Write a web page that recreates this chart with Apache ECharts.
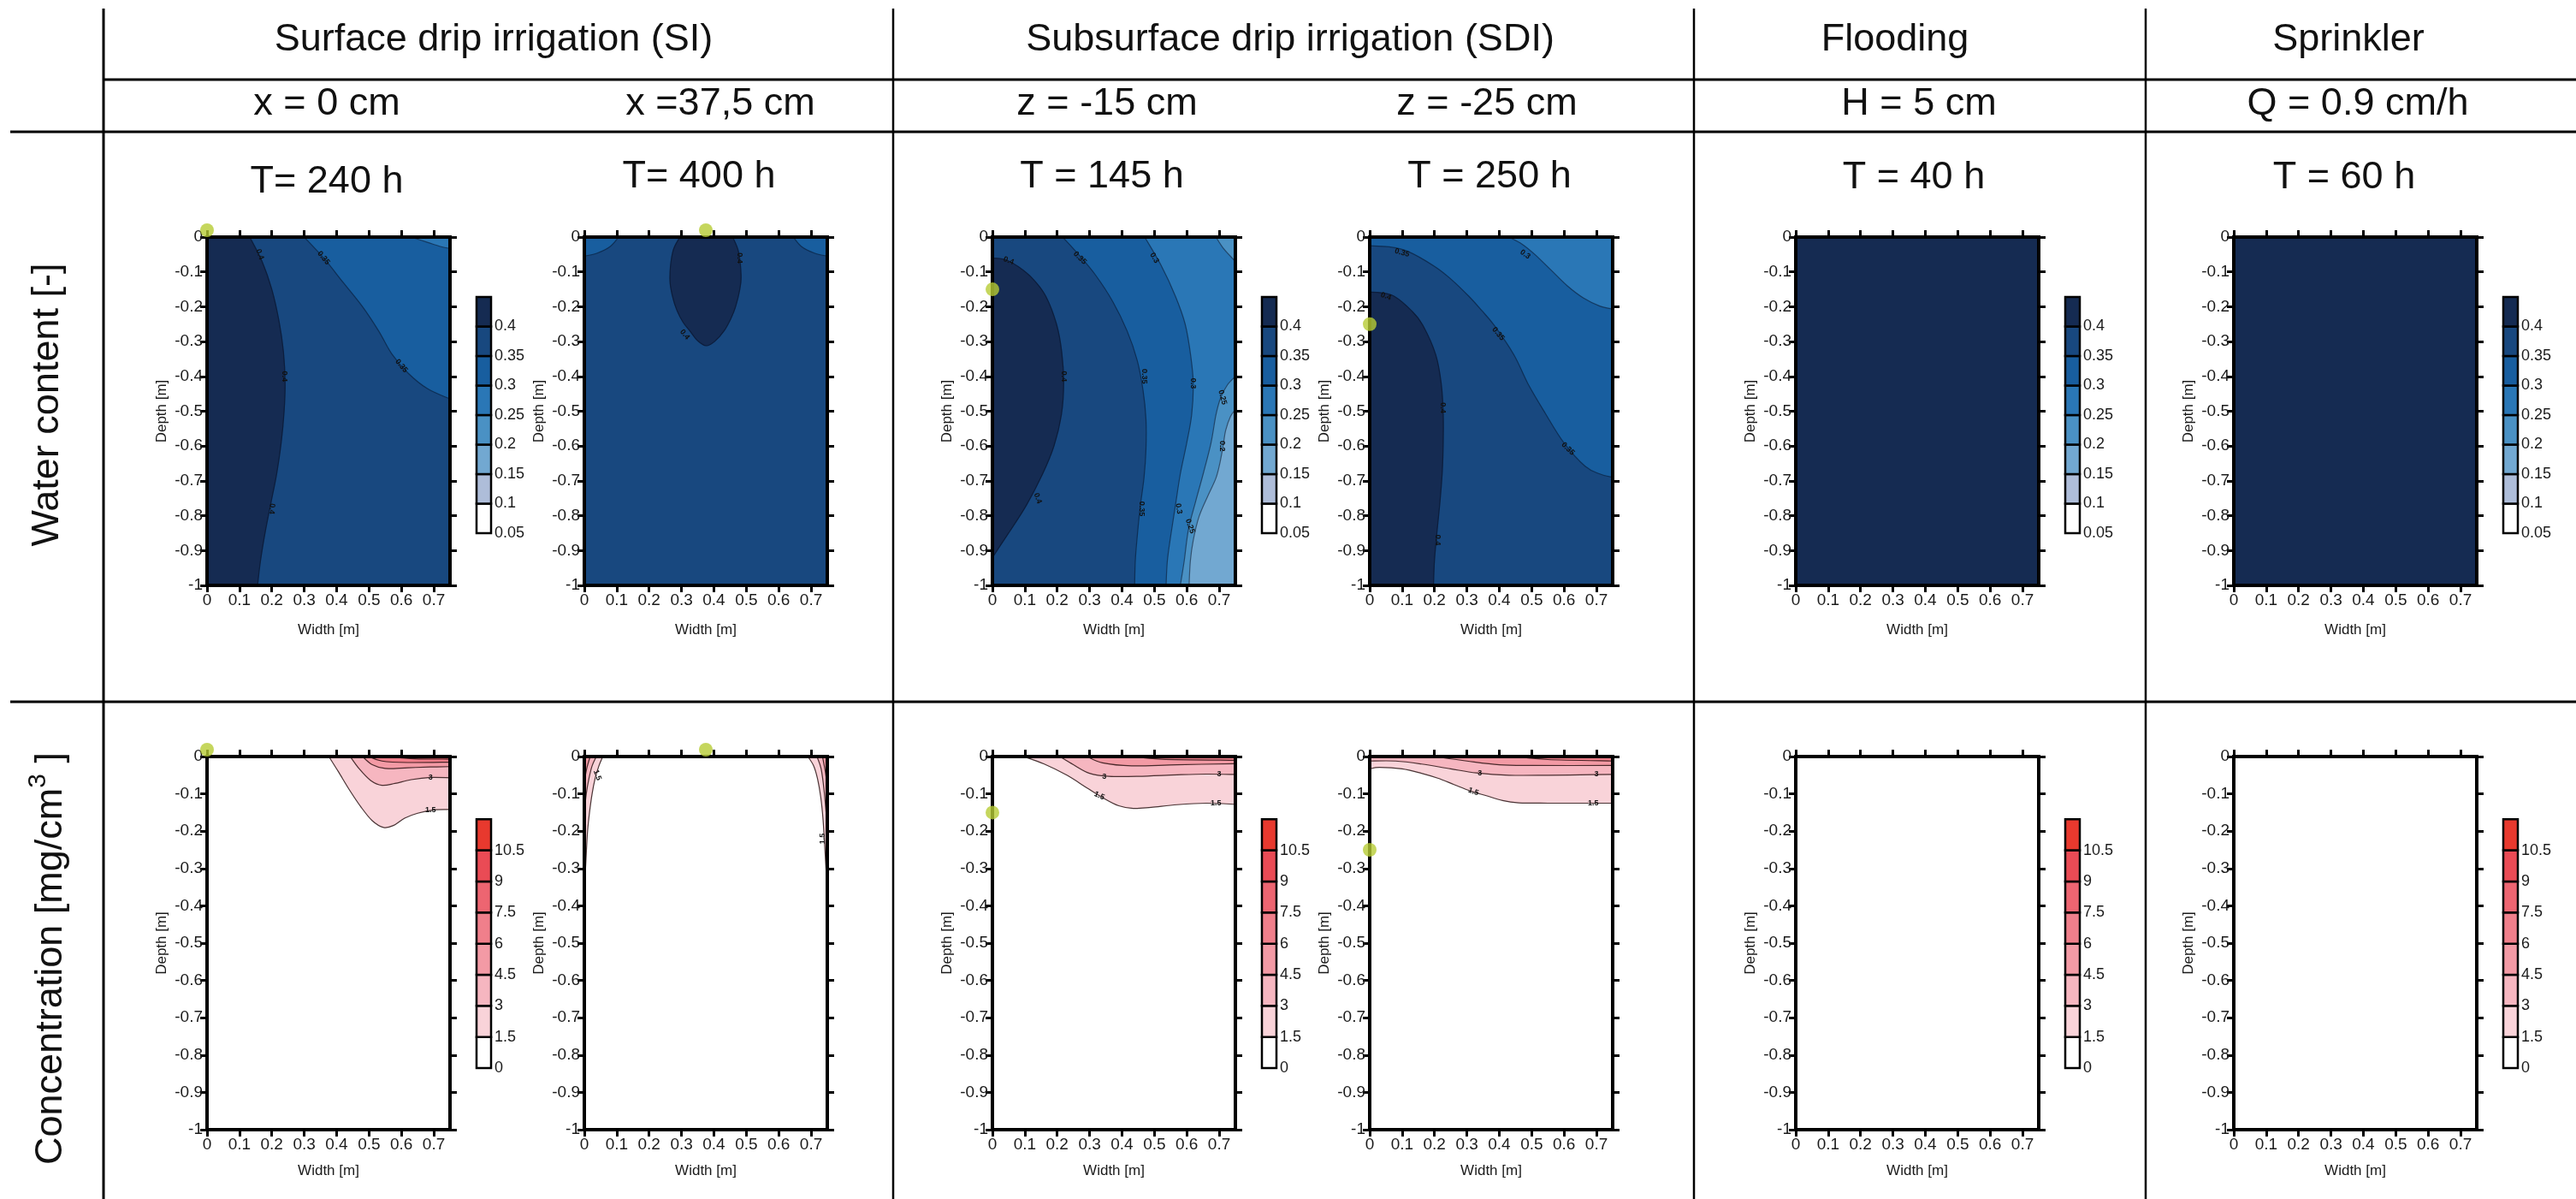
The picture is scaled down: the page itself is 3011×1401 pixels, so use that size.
<!DOCTYPE html>
<html><head><meta charset="utf-8">
<script src="https://cdn.jsdelivr.net/npm/echarts@6/dist/echarts.min.js"></script>
<style>html,body{margin:0;padding:0;background:#fff}#c{width:3011px;height:1401px}</style>
</head><body><div id="c"></div>
<script>
// ================= DATA =================
const groupTitles = ['Surface drip irrigation (SI)', 'Subsurface drip irrigation (SDI)', 'Flooding', 'Sprinkler'];
const caseTitles = ['x = 0 cm', 'x =37,5 cm', 'z = -15 cm', 'z = -25 cm', 'H = 5 cm', 'Q = 0.9 cm/h'];
const timeTitles = ['T= 240 h', 'T= 400 h', 'T = 145 h', 'T = 250 h', 'T = 40 h', 'T = 60 h'];
const rowTitle1 = 'Water content [-]';
const rowTitle2 = ['Concentration [mg/cm', '3', ' ]'];
const widthTicks = [0, 0.1, 0.2, 0.3, 0.4, 0.5, 0.6, 0.7];
const depthTicks = [0, -0.1, -0.2, -0.3, -0.4, -0.5, -0.6, -0.7, -0.8, -0.9, -1];
const waterLevels = [0.05, 0.1, 0.15, 0.2, 0.25, 0.3, 0.35, 0.4, 0.45];
const concLevels = [0, 1.5, 3, 4.5, 6, 7.5, 9, 10.5, 12];
const emitterPos = [[0, 0], [0.375, 0], [0, -0.15], [0, -0.25]];

// ---- water content contours [width m, depth m] ----
const si0_w040 = [[0.132,0],[0.17,-0.07],[0.2,-0.15],[0.222,-0.24],[0.236,-0.33],[0.241,-0.42],[0.238,-0.5],[0.229,-0.59],[0.215,-0.68],[0.198,-0.76],[0.18,-0.845],[0.165,-0.93],[0.156,-1]];
const si0_w035 = [[0.30,0],[0.36,-0.06],[0.42,-0.13],[0.48,-0.2],[0.53,-0.27],[0.57,-0.335],[0.62,-0.39],[0.68,-0.435],[0.75,-0.465]];
const si0_w030 = [[0.63,0],[0.68,-0.015],[0.72,-0.027],[0.75,-0.033]];
const si37_w040 = [[0.295,0],[0.273,-0.042],[0.264,-0.118],[0.272,-0.17],[0.286,-0.211],[0.305,-0.245],[0.326,-0.27],[0.35,-0.298],[0.376,-0.312],[0.402,-0.3],[0.431,-0.27],[0.452,-0.235],[0.467,-0.2],[0.48,-0.15],[0.484,-0.11],[0.476,-0.042],[0.458,0]];
const si37_w035a = [[0,-0.055],[0.04,-0.046],[0.08,-0.027],[0.106,0]];
const si37_w035b = [[0.645,0],[0.67,-0.027],[0.71,-0.046],[0.75,-0.055]];
const sdi15_w040 = [[0,-0.06],[0.04,-0.065],[0.08,-0.085],[0.125,-0.12],[0.165,-0.17],[0.198,-0.25],[0.214,-0.33],[0.22,-0.42],[0.213,-0.51],[0.19,-0.6],[0.155,-0.68],[0.105,-0.77],[0.05,-0.85],[0,-0.92]];
const sdi15_w035 = [[0.217,0],[0.266,-0.05],[0.319,-0.11],[0.372,-0.186],[0.416,-0.27],[0.447,-0.354],[0.465,-0.44],[0.474,-0.523],[0.474,-0.61],[0.468,-0.69],[0.456,-0.776],[0.447,-0.86],[0.441,-0.93],[0.439,-1]];
const sdi15_w030 = [[0.47,0],[0.52,-0.08],[0.565,-0.17],[0.595,-0.25],[0.612,-0.34],[0.62,-0.42],[0.615,-0.51],[0.6,-0.59],[0.58,-0.68],[0.565,-0.77],[0.55,-0.86],[0.54,-0.93],[0.536,-1]];
const sdi15_w025a = [[0.69,0],[0.715,-0.035],[0.75,-0.07]];
const sdi15_w025b = [[0.75,-0.4],[0.725,-0.425],[0.705,-0.46],[0.69,-0.51],[0.675,-0.59],[0.652,-0.675],[0.627,-0.76],[0.605,-0.84],[0.592,-0.93],[0.58,-1]];
const sdi15_w020 = [[0.75,-0.495],[0.735,-0.515],[0.72,-0.555],[0.712,-0.6],[0.703,-0.645],[0.69,-0.692],[0.665,-0.743],[0.638,-0.802],[0.62,-0.87],[0.611,-0.93],[0.607,-1]];
const sdi25_w040 = [[0,-0.158],[0.035,-0.16],[0.076,-0.17],[0.129,-0.211],[0.164,-0.253],[0.204,-0.338],[0.221,-0.422],[0.227,-0.506],[0.227,-0.59],[0.224,-0.675],[0.217,-0.76],[0.208,-0.844],[0.2,-0.928],[0.197,-1]];
const sdi25_w035 = [[0,-0.025],[0.06,-0.028],[0.12,-0.042],[0.2,-0.084],[0.25,-0.12],[0.305,-0.169],[0.345,-0.21],[0.384,-0.253],[0.445,-0.338],[0.489,-0.422],[0.542,-0.506],[0.599,-0.59],[0.665,-0.658],[0.71,-0.68],[0.75,-0.69]];
const sdi25_w030 = [[0.43,0],[0.47,-0.02],[0.51,-0.05],[0.56,-0.095],[0.61,-0.14],[0.66,-0.175],[0.71,-0.198],[0.75,-0.207]];

// ---- concentration contours [width m, depth m] ----
const si0_c15 = [[0.376,0],[0.405,-0.04],[0.44,-0.09],[0.475,-0.135],[0.51,-0.172],[0.545,-0.19],[0.575,-0.185],[0.61,-0.165],[0.65,-0.152],[0.7,-0.143],[0.75,-0.142]];
const si0_c30 = [[0.442,0],[0.47,-0.033],[0.505,-0.064],[0.54,-0.077],[0.58,-0.072],[0.63,-0.062],[0.69,-0.056],[0.75,-0.057]];
const si0_c45 = [[0.48,0],[0.51,-0.022],[0.55,-0.032],[0.62,-0.03],[0.69,-0.028],[0.75,-0.027]];
const si0_c60 = [[0.5,0],[0.54,-0.012],[0.62,-0.016],[0.75,-0.015]];
const si0_c75 = [[0.56,0],[0.64,-0.006],[0.75,-0.007]];
const si37_c15a = [[0.057,0],[0.045,-0.025],[0.033,-0.06],[0.024,-0.1],[0.016,-0.15],[0.01,-0.2],[0.006,-0.26],[0.003,-0.31],[0,-0.34]];
const si37_c30a = [[0.037,0],[0.024,-0.025],[0.014,-0.06],[0.006,-0.1],[0,-0.15]];
const si37_c45a = [[0.018,0],[0.008,-0.03],[0,-0.066]];
const si37_c15b = [[0.69,0],[0.708,-0.025],[0.72,-0.06],[0.73,-0.11],[0.737,-0.17],[0.742,-0.24],[0.746,-0.3],[0.75,-0.36]];
const si37_c30b = [[0.718,0],[0.731,-0.033],[0.74,-0.09],[0.747,-0.156],[0.75,-0.18]];
const si37_c45b = [[0.735,0],[0.744,-0.041],[0.75,-0.08]];
const sdi15_c15 = [[0.097,0],[0.16,-0.02],[0.23,-0.05],[0.29,-0.083],[0.34,-0.11],[0.39,-0.132],[0.435,-0.139],[0.49,-0.136],[0.57,-0.129],[0.66,-0.125],[0.75,-0.128]];
const sdi15_c30 = [[0.208,0],[0.25,-0.022],[0.3,-0.045],[0.36,-0.053],[0.45,-0.053],[0.57,-0.049],[0.66,-0.047],[0.75,-0.048]];
const sdi15_c45 = [[0.292,0],[0.34,-0.017],[0.43,-0.025],[0.57,-0.022],[0.75,-0.019]];
const sdi15_c60 = [[0.434,0],[0.523,-0.007],[0.75,-0.01]];
const sdi25_c15 = [[0,-0.033],[0.03,-0.029],[0.1,-0.033],[0.16,-0.045],[0.21,-0.058],[0.26,-0.075],[0.31,-0.092],[0.36,-0.105],[0.41,-0.118],[0.46,-0.124],[0.55,-0.125],[0.65,-0.125],[0.75,-0.125]];
const sdi25_c30 = [[0,-0.012],[0.08,-0.012],[0.16,-0.02],[0.25,-0.033],[0.33,-0.044],[0.43,-0.05],[0.55,-0.05],[0.65,-0.049],[0.75,-0.048]];
const sdi25_c45 = [[0.2,0],[0.3,-0.012],[0.4,-0.022],[0.5,-0.024],[0.75,-0.024]];
const sdi25_c60 = [[0.45,0],[0.55,-0.008],[0.75,-0.012]];

// ---- contour labels [text, width, depth, angle deg] ----
const si0_wlab = [['0.4',0.163,-0.05,-70],['0.4',0.24,-0.4,-90],['0.4',0.2,-0.78,-95],['0.35',0.36,-0.06,-50],['0.35',0.6,-0.37,-50]];
const si37_wlab = [['0.4',0.478,-0.06,-90],['0.4',0.31,-0.28,-50]];
const sdi15_wlab = [['0.4',0.05,-0.068,-20],['0.4',0.22,-0.4,-90],['0.4',0.14,-0.75,-70],['0.35',0.27,-0.06,-45],['0.35',0.47,-0.4,-90],['0.35',0.46,-0.78,-90],['0.3',0.5,-0.06,-60],['0.3',0.62,-0.42,-90],['0.3',0.575,-0.78,-80],['0.25',0.71,-0.46,-75],['0.25',0.61,-0.83,-70],['0.2',0.71,-0.6,-90]];
const sdi25_wlab = [['0.35',0.1,-0.045,-15],['0.35',0.397,-0.278,-50],['0.35',0.612,-0.608,-45],['0.3',0.48,-0.05,-35],['0.4',0.05,-0.17,-20],['0.4',0.226,-0.49,-90],['0.4',0.21,-0.87,-90]];
const si0_clab = [['3',0.69,-0.056,0],['1.5',0.69,-0.143,0]];
const si37_clab = [['1.5',0.04,-0.05,-70],['1.5',0.735,-0.22,90]];
const sdi15_clab = [['3',0.345,-0.053,0],['1.5',0.33,-0.105,-25],['3',0.7,-0.047,0],['1.5',0.69,-0.125,0]];
const sdi25_clab = [['3',0.34,-0.045,0],['1.5',0.32,-0.094,-20],['3',0.7,-0.048,0],['1.5',0.69,-0.125,0]];

// ================= STYLE / LAYOUT =================
const FONT = '"Liberation Sans", Arial, sans-serif';
const W_COL = ['#ffffff','#aebdd9','#72a8d1','#4a91c4','#2a77b6','#185e9f','#18487f','#152b52'];
const C_COL = ['#ffffff','#f9d3d9','#f6b6c0','#f39aa5','#f07f8b','#ed6571','#ea4b55','#e8392e'];
const colX = [242, 683, 1160, 1601, 2099, 2611];
const rowTop = [277, 884], rowH = [407, 436], plotW = 284;
const cbFrac = [[0.172, 0.85], [0.168, 0.835]];
const cbCols = [0, 2, 4, 5];

const waterPanels = [
  {base:6, regions:[{band:5,line:si0_w035,close:[[0.75,0]]},{band:4,line:si0_w030,close:[[0.75,0]]},{band:7,line:si0_w040,close:[[0,-1],[0,0]]}], labels:si0_wlab},
  {base:6, regions:[{band:5,line:si37_w035a,close:[[0,0]]},{band:5,line:si37_w035b,close:[[0.75,0]]},{band:7,line:si37_w040,close:[]}], labels:si37_wlab},
  {base:6, regions:[{band:5,line:sdi15_w035,close:[[0.75,-1],[0.75,0]]},{band:4,line:sdi15_w030,close:[[0.75,-1],[0.75,0]]},{band:3,line:sdi15_w025a,close:[[0.75,0]]},{band:3,line:sdi15_w025b,close:[[0.75,-1]]},{band:2,line:sdi15_w020,close:[[0.75,-1]]},{band:7,line:sdi15_w040,close:[]}], labels:sdi15_wlab},
  {base:6, regions:[{band:5,line:sdi25_w035,close:[[0.75,0],[0,0]]},{band:4,line:sdi25_w030,close:[[0.75,0]]},{band:7,line:sdi25_w040,close:[[0,-1]]}], labels:sdi25_wlab},
  {base:7, regions:[], labels:[]},
  {base:7, regions:[], labels:[]}
];
const concPanels = [
  {base:0, regions:[{band:1,line:si0_c15,close:[[0.75,0]]},{band:2,line:si0_c30,close:[[0.75,0]]},{band:3,line:si0_c45,close:[[0.75,0]]},{band:4,line:si0_c60,close:[[0.75,0]]},{band:5,line:si0_c75,close:[[0.75,0]]}], labels:si0_clab},
  {base:0, regions:[{band:1,line:si37_c15a,close:[[0,0]]},{band:2,line:si37_c30a,close:[[0,0]]},{band:3,line:si37_c45a,close:[[0,0]]},{band:1,line:si37_c15b,close:[[0.75,0]]},{band:2,line:si37_c30b,close:[[0.75,0]]},{band:3,line:si37_c45b,close:[[0.75,0]]}], labels:si37_clab},
  {base:0, regions:[{band:1,line:sdi15_c15,close:[[0.75,0]]},{band:2,line:sdi15_c30,close:[[0.75,0]]},{band:3,line:sdi15_c45,close:[[0.75,0]]},{band:4,line:sdi15_c60,close:[[0.75,0]]}], labels:sdi15_clab},
  {base:0, regions:[{band:1,line:sdi25_c15,close:[[0.75,0],[0,0]]},{band:2,line:sdi25_c30,close:[[0.75,0],[0,0]]},{band:3,line:sdi25_c45,close:[[0.75,0]]},{band:4,line:sdi25_c60,close:[[0.75,0]]}], labels:sdi25_clab},
  {base:0, regions:[], labels:[]},
  {base:0, regions:[], labels:[]}
];

// ================= BUILD =================
function spline(pts) {
  let d = '';
  for (let i = 0; i < pts.length - 1; i++) {
    const p0 = pts[i - 1] || pts[i], p1 = pts[i], p2 = pts[i + 1], p3 = pts[i + 2] || pts[i + 1];
    const t = 1 / 6;
    d += ' C' + (p1[0] + (p2[0] - p0[0]) * t) + ' ' + (p1[1] + (p2[1] - p0[1]) * t) + ' ' +
         (p2[0] - (p3[0] - p1[0]) * t) + ' ' + (p2[1] - (p3[1] - p1[1]) * t) + ' ' + p2[0] + ' ' + p2[1];
  }
  return d;
}
function makeRender(panel, colors, lineColor) {
  return function (params, api) {
    const P = p => api.coord(p);
    const ch = [];
    const a = P([0, 0]), b = P([0.75, -1]);
    ch.push({type:'rect', shape:{x:a[0], y:a[1], width:b[0]-a[0], height:b[1]-a[1]}, style:{fill:colors[panel.base]}});
    panel.regions.forEach(r => {
      const pts = r.line.map(P);
      let d = 'M' + pts[0][0] + ' ' + pts[0][1] + spline(pts);
      r.close.forEach(c => { const q = P(c); d += ' L' + q[0] + ' ' + q[1]; });
      d += ' Z';
      ch.push({type:'path', shape:{pathData:d}, style:{fill:colors[r.band], stroke:colors[r.band], lineWidth:0.5}});
    });
    panel.regions.forEach(r => {
      const pts = r.line.map(P);
      ch.push({type:'path', shape:{pathData:'M' + pts[0][0] + ' ' + pts[0][1] + spline(pts)}, style:{fill:'none', stroke:lineColor, lineWidth:1.2}});
    });
    panel.labels.forEach(l => {
      const q = P([l[1], l[2]]);
      ch.push({type:'text', x:q[0], y:q[1], rotation:l[3]*Math.PI/180,
        style:{text:l[0], fontSize:9, fontFamily:FONT, fontWeight:'bold', fill:'#111', align:'center', verticalAlign:'middle', textAlign:'center', textVerticalAlign:'middle'}});
    });
    return {type:'group', children:ch};
  };
}

const grid = [], xAxis = [], yAxis = [], series = [];
const axLine = {show:true, onZero:false, lineStyle:{color:'#000', width:4, cap:'square'}};
const tick = vals => ({show:true, inside:false, length:8, lineStyle:{color:'#000', width:3}, customValues:vals});
const lblStyle = {fontSize:19, color:'#1a1a1a', fontFamily:FONT};

function addPlot(r, c, panel, colors, lineColor) {
  const gi = grid.length;
  grid.push({left:colX[c], top:rowTop[r], width:plotW, height:rowH[r], outerBoundsMode:'none', containLabel:false});
  const xi = xAxis.length;
  xAxis.push({gridIndex:gi, type:'value', min:0, max:0.75, position:'bottom', z:10, axisLine:axLine, axisTick:tick(widthTicks), splitLine:{show:false},
    axisLabel:Object.assign({margin:8, customValues:widthTicks, formatter:v=>String(v)}, lblStyle),
    name:'Width [m]', nameLocation:'middle', nameGap:r === 0 ? 44 : 40, nameTextStyle:{fontSize:17, color:'#1a1a1a', fontFamily:FONT}});
  xAxis.push({gridIndex:gi, type:'value', min:0, max:0.75, position:'top', z:10, axisLine:axLine, axisTick:tick(widthTicks), axisLabel:{show:false}, splitLine:{show:false}});
  const yi = yAxis.length;
  yAxis.push({gridIndex:gi, type:'value', min:-1, max:0, position:'left', z:10, axisLine:axLine, axisTick:tick(depthTicks), splitLine:{show:false},
    axisLabel:Object.assign({margin:5, customValues:depthTicks, formatter:v=>String(v)}, lblStyle),
    name:'Depth [m]', nameLocation:'middle', nameGap:44, nameTextStyle:{fontSize:17, color:'#1a1a1a', fontFamily:FONT}});
  yAxis.push({gridIndex:gi, type:'value', min:-1, max:0, position:'right', z:10, axisLine:axLine, axisTick:tick(depthTicks), axisLabel:{show:false}, splitLine:{show:false}});
  series.push({type:'custom', xAxisIndex:xi, yAxisIndex:yi, clip:true, silent:true, z:2, data:[[0, 0]], renderItem:makeRender(panel, colors, lineColor)});
  if (c < emitterPos.length) {
    const e = emitterPos[c];
    series.push({type:'scatter', xAxisIndex:xi, yAxisIndex:yi, clip:false, silent:true, z:30, data:[e], symbol:'circle', symbolSize:16,
      symbolOffset:[0, e[1] === 0 ? -8 : 0], itemStyle:{color:'#b6cc34'}});
  }
}
function addColorbar(r, c, levels, colors) {
  const gi = grid.length;
  const top = rowTop[r] + rowH[r] * cbFrac[r][0], h = rowH[r] * (cbFrac[r][1] - cbFrac[r][0]);
  grid.push({left:colX[c] + 315, top:top, width:17, height:h, outerBoundsMode:'none', containLabel:false});
  const xi = xAxis.length, yi = yAxis.length;
  xAxis.push({gridIndex:gi, type:'value', min:0, max:1, show:false});
  yAxis.push({gridIndex:gi, type:'value', min:levels[0], max:levels[levels.length-1], position:'right',
    axisLine:{show:false}, axisTick:{show:false}, splitLine:{show:false},
    axisLabel:{margin:4, fontSize:18, color:'#1a1a1a', fontFamily:FONT, customValues:levels.slice(0, -1), formatter:v=>String(v)}});
  series.push({type:'custom', xAxisIndex:xi, yAxisIndex:yi, silent:true, z:5,
    data:levels.slice(0, -1).map((v, i) => [0, v, levels[i + 1], i]),
    renderItem:(params, api) => {
      const a = api.coord([0, api.value(2)]), b = api.coord([1, api.value(1)]);
      return {type:'rect', shape:{x:a[0], y:a[1], width:b[0]-a[0], height:b[1]-a[1]}, style:{fill:colors[api.value(3)], stroke:'#000', lineWidth:2.5}};
    }});
}

for (let c = 0; c < 6; c++) addPlot(0, c, waterPanels[c], W_COL, 'rgba(5,15,35,0.55)');
for (let c = 0; c < 6; c++) addPlot(1, c, concPanels[c], C_COL, 'rgba(30,10,10,0.8)');
cbCols.forEach(c => { addColorbar(0, c, waterLevels, W_COL); addColorbar(1, c, concLevels, C_COL); });

// ---- table graphics ----
const graphic = [];
const L = (x1, y1, x2, y2, w) => graphic.push({type:'line', silent:true, z:50, shape:{x1, y1, x2, y2}, style:{stroke:'#000', lineWidth:w}});
L(121, 10, 121, 1401, 3); L(1044, 10, 1044, 1401, 2.5); L(1980, 10, 1980, 1401, 2.5); L(2508, 10, 2508, 1401, 2.5);
L(121, 93, 3011, 93, 3); L(12, 154, 3011, 154, 3); L(12, 820, 3011, 820, 3);
const T = (x, y, text, size, rot) => graphic.push({type:'text', silent:true, z:50, x, y, rotation:rot || 0,
  style:{text, fontSize:size, fontFamily:FONT, fill:'#111', align:'center', verticalAlign:'middle', textAlign:'center', textVerticalAlign:'middle'}});
const groupX = [577, 1508, 2215, 2745];
groupTitles.forEach((t, i) => T(groupX[i], 47, t, 45));
const caseX = [382, 842, 1294, 1738, 2243, 2756];
caseTitles.forEach((t, i) => T(caseX[i], 122, t, 45));
const timeX = [382, 817, 1288, 1741, 2237, 2740], timeY = [213, 207, 207, 207, 208, 208];
timeTitles.forEach((t, i) => T(timeX[i], timeY[i], t, 45));
T(56, 473, rowTitle1, 45, Math.PI / 2);
graphic.push({type:'text', silent:true, z:50, x:56, y:1120, rotation:Math.PI / 2,
  style:{text:'{a|' + rowTitle2[0] + '}{s|' + rowTitle2[1] + '}{a|' + rowTitle2[2] + '}',
    rich:{a:{fontSize:45, fontFamily:FONT, fill:'#111', verticalAlign:'bottom', lineHeight:52}, s:{fontSize:30, fontFamily:FONT, fill:'#111', verticalAlign:'top', lineHeight:52}},
    align:'center', verticalAlign:'middle', textAlign:'center', textVerticalAlign:'middle'}});

const chart = echarts.init(document.getElementById('c'), null, {renderer:'canvas'});
chart.setOption({animation:false, backgroundColor:'#fff', textStyle:{fontFamily:FONT}, grid, xAxis, yAxis, series, graphic});
</script></body></html>
